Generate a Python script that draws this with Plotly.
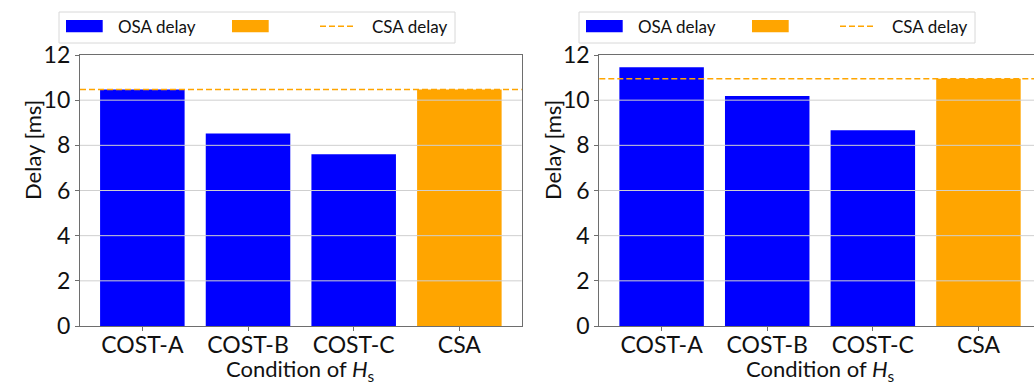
import plotly.graph_objects as go

# ---- data ----
categories = ["COST-A", "COST-B", "COST-C", "CSA"]
osa_left = [10.47, 8.52, 7.60]
csa_left = 10.47
osa_right = [11.46, 10.18, 8.67]
csa_right = 10.95
y_ticks = [0, 2, 4, 6, 8, 10, 12]
legend_labels = ["OSA delay", "", "CSA delay"]

W, H = 1034, 382
BLUE = "#0000ff"
ORANGE = "#ffa500"
SPINE = "#6e6e6e"
GRID = "#cfcfcf"
FONT = "Lato"

def fx(px):
    return px / W

def fy(py):
    return 1 - py / H

fig = go.Figure()

panels = [
    dict(osa=osa_left, csa=csa_left, xa="x", ya="y", xdom=[fx(80), fx(521.7)],
         xr=[-0.59, 3.59], mirror_y=True, off=0, xcenter=300.8),
    dict(osa=osa_right, csa=csa_right, xa="x2", ya="y2", xdom=[fx(599.3), 1.0],
         xr=[-0.59, 3.526], mirror_y=False, off=520, xcenter=820.5),
]

shapes = []
annotations = []
ydom = [fy(326), fy(55)]

for i, p in enumerate(panels):
    vals = p["osa"] + [p["csa"]]
    colors = [BLUE] * len(p["osa"]) + [ORANGE]
    fig.add_trace(go.Bar(
        x=categories, y=vals, width=0.8,
        marker=dict(color=colors, line=dict(width=0)),
        xaxis=p["xa"], yaxis=p["ya"], showlegend=False,
    ))
    sfx = "" if i == 0 else "2"
    fig.layout["xaxis" + sfx] = dict(
        domain=p["xdom"], anchor="y" + sfx, range=p["xr"], automargin=False,
        showline=True, linecolor=SPINE, linewidth=1.2, mirror=True,
        ticks="outside", ticklen=4, tickcolor=SPINE, tickwidth=1,
        ticklabelstandoff=-6,
        showgrid=False, zeroline=False,
        tickfont=dict(family=FONT, size=23, color="#111"),
    )
    fig.layout["yaxis" + sfx] = dict(
        domain=ydom, anchor="x" + sfx, range=[0, 12], automargin=False,
        tickvals=y_ticks, ticktext=[str(t) for t in y_ticks],
        showline=True, linecolor=SPINE, linewidth=1.2, mirror=p["mirror_y"],
        ticks="outside", ticklen=4, tickcolor=SPINE, tickwidth=1,
        showgrid=False, zeroline=False,
        tickfont=dict(family=FONT, size=23, color="#111"),
    )
    xref_dom = p["xa"] + " domain"
    for t in y_ticks:
        if 0 < t < 12:
            shapes.append(dict(type="line", xref=xref_dom, yref=p["ya"],
                               x0=0, x1=1, y0=t, y1=t, layer="above",
                               line=dict(color=GRID, width=1)))
    shapes.append(dict(type="line", xref=xref_dom, yref=p["ya"],
                       x0=0, x1=1, y0=p["csa"], y1=p["csa"], layer="above",
                       line=dict(color=ORANGE, width=1.6, dash="6px,3px")))

    # axis titles
    annotations.append(dict(text="Delay [ms]", textangle=-90, xref="paper", yref="paper",
                            x=fx(p["off"] + 32), y=fy(150), showarrow=False,
                            font=dict(family=FONT, size=22, color="#111"),
                            xanchor="center", yanchor="middle"))
    annotations.append(dict(text="Condition of <i>H</i><sub>s</sub>", xref="paper", yref="paper",
                            x=fx(p["xcenter"]), y=fy(370), showarrow=False,
                            font=dict(family=FONT, size=22, color="#111"),
                            xanchor="center", yanchor="middle"))

    # legend (drawn manually)
    o = p["off"]
    shapes.append(dict(type="rect", xref="paper", yref="paper",
                       x0=fx(o + 59), x1=fx(o + 455), y0=fy(43), y1=fy(12),
                       line=dict(color="#d8d8d8", width=1), fillcolor="white", layer="above"))
    shapes.append(dict(type="rect", xref="paper", yref="paper",
                       x0=fx(o + 66), x1=fx(o + 102.7), y0=fy(32.3), y1=fy(20),
                       line=dict(width=0), fillcolor=BLUE, layer="above"))
    shapes.append(dict(type="rect", xref="paper", yref="paper",
                       x0=fx(o + 232), x1=fx(o + 268.7), y0=fy(32.3), y1=fy(20),
                       line=dict(width=0), fillcolor=ORANGE, layer="above"))
    shapes.append(dict(type="line", xref="paper", yref="paper",
                       x0=fx(o + 320), x1=fx(o + 355), y0=fy(26.3), y1=fy(26.3),
                       line=dict(color=ORANGE, width=1.6, dash="6px,3px"), layer="above"))
    annotations.append(dict(text=legend_labels[0], xref="paper", yref="paper",
                            x=fx(o + 116), y=fy(27), showarrow=False, xanchor="left",
                            yanchor="middle", font=dict(family=FONT, size=17, color="#111")))
    annotations.append(dict(text=legend_labels[2], xref="paper", yref="paper",
                            x=fx(o + 370), y=fy(27), showarrow=False, xanchor="left",
                            yanchor="middle", font=dict(family=FONT, size=17, color="#111")))

fig.update_layout(
    width=W, height=H, margin=dict(l=0, r=0, t=0, b=0, autoexpand=False),
    paper_bgcolor="white", plot_bgcolor="white",
    shapes=shapes, annotations=annotations, showlegend=False,
    bargap=0.2,
)

fig.write_html("out.html")
